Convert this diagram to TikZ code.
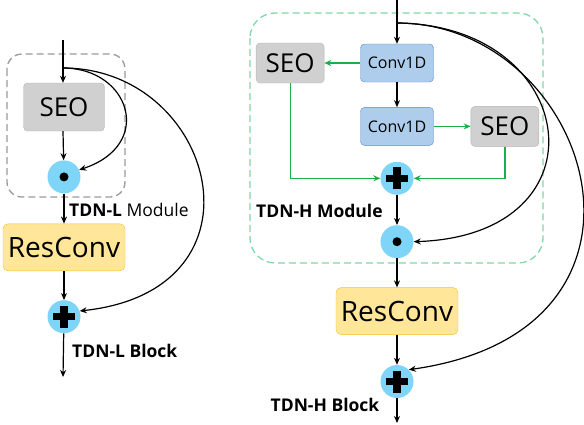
\documentclass[tikz,border=0pt]{standalone}
\usepackage{fontspec}
\setmainfont{Open Sans}
\usetikzlibrary{arrows.meta,positioning}

\definecolor{seofill}{HTML}{D0D0D0}
\definecolor{seoline}{HTML}{B4B4B4}
\definecolor{resfill}{HTML}{FFE699}
\definecolor{resline}{HTML}{F2C230}
\definecolor{convfill}{HTML}{AECDEC}
\definecolor{convline}{HTML}{5B87BF}
\definecolor{opfill}{HTML}{7FD5F7}
\definecolor{flowgreen}{HTML}{1AAF4B}
\definecolor{modgray}{HTML}{9A9A9A}
\definecolor{modgreen}{HTML}{82D6A8}

\tikzset{
  seobox/.style={draw=seoline, fill=seofill, rounded corners=4pt, inner sep=0pt,
    minimum width=81pt, minimum height=48pt, font=\fontsize{26}{28}\selectfont},
  seosmall/.style={seobox, minimum width=68pt, minimum height=40pt},
  convbox/.style={draw=convline, fill=convfill, rounded corners=4pt, inner sep=0pt,
    minimum width=73pt, minimum height=38pt, font=\fontsize{16}{18}\selectfont},
  resbox/.style={draw=resline, fill=resfill, rounded corners=5pt, inner sep=0pt,
    minimum width=122pt, minimum height=47pt, font=\fontsize{28}{32}\selectfont},
  opnode/.style={circle, fill=opfill, minimum size=33pt, inner sep=0pt},
  lbl/.style={font=\bfseries\fontsize{17.5}{20}\selectfont, inner sep=0pt},
  flow/.style={->, line width=1.2pt},
  gflow/.style={->, line width=1.2pt, draw=flowgreen, >={Stealth[length=7pt,width=6pt,fill=flowgreen]}},
}

\begin{document}
\begin{tikzpicture}[x=1pt, y=-1pt, >={Stealth[length=7pt,width=6pt]}]
  \useasboundingbox (0,0) rectangle (584,424);

  % TDN-L block
  \coordinate (inL) at (63,40);
  \coordinate (brL) at (63,68);
  \node[seobox] (seoL) at (64,107) {SEO};
  \node[opnode, below=29pt of seoL] (dotL) {};
  \node[resbox, below=30pt of dotL] (resL) {ResConv};
  \node[opnode, below=29pt of resL] (plusL) {};
  \coordinate (outL) at (63,377);
  \draw[modgray, line width=1.3pt, dash pattern=on 7pt off 4pt, rounded corners=15pt]
    (7,54) rectangle (125,197);
  \fill (dotL) circle (4.5pt);
  \draw[line width=7.5pt] ([xshift=-11pt]plusL.center) -- ([xshift=11pt]plusL.center);
  \draw[line width=7.5pt] ([yshift=-11pt]plusL.center) -- ([yshift=11pt]plusL.center);

  \draw[flow] (inL) -- (inL |- seoL.north);
  \draw[flow] (inL |- seoL.south) -- (dotL);
  \draw[flow] (dotL) -- (resL);
  \draw[flow] (resL) -- (plusL);
  \draw[flow] (plusL) -- (outL);
  \draw[flow] (brL) .. controls (130,68) and (155,145) .. (dotL.25);
  \draw[flow] (brL) .. controls (215,68) and (275,290) .. (plusL.20);

  \node[lbl, anchor=west] (modL) at (69,210) {TDN-L \mdseries Module};
  \node[lbl, anchor=west] (blkL) at (72,351) {TDN-L Block};

  % TDN-H block
  \coordinate (inR) at (397,0);
  \coordinate (brR) at (397,23);
  \node[convbox] (convA) at (397,63) {Conv1D};
  \node[convbox, below=25pt of convA] (convB) {Conv1D};
  \node[seosmall, left=36pt of convA] (seoA) {SEO};
  \node[seosmall, right=37pt of convB] (seoB) {SEO};
  \node[opnode, below=16pt of convB] (plusM) {};
  \node[opnode, below=30pt of plusM] (dotR) {};
  \node[resbox, below=29pt of dotR] (resR) {ResConv};
  \node[opnode, below=30pt of resR] (plusR) {};
  \coordinate (outR) at (397,423);
  \draw[modgreen, line width=1.3pt, dash pattern=on 7pt off 4pt, rounded corners=25pt]
    (250,13) rectangle (543,263);
  \fill (dotR) circle (4.5pt);
  \foreach \p in {plusM, plusR} {
    \draw[line width=7.5pt] ([xshift=-11pt]\p.center) -- ([xshift=11pt]\p.center);
    \draw[line width=7.5pt] ([yshift=-11pt]\p.center) -- ([yshift=11pt]\p.center);
  }

  \draw[flow] (inR) -- (convA.north);
  \draw[flow] (convA) -- (convB);
  \draw[gflow] (convA) -- (seoA);
  \draw[gflow] (convB) -- (seoB);
  \draw[gflow] (seoA.south) |- (plusM.west);
  \draw[gflow] (seoB.south) |- (plusM.east);
  \draw[flow] (plusM) -- (dotR);
  \draw[flow] (dotR) -- (resR);
  \draw[flow] (resR) -- (plusR);
  \draw[flow] (plusR) -- (outR);
  \draw[flow] (brR) .. controls (580,25) and (610,235) .. (dotR.east);
  \draw[flow] (brR) .. controls (590,23) and (690,330) .. (plusR.45);

  \node[lbl, anchor=west] (modR) at (256,211) {TDN-H Module};
  \node[lbl] (blkR) at (325,405) {TDN-H Block};
\end{tikzpicture}
\end{document}
